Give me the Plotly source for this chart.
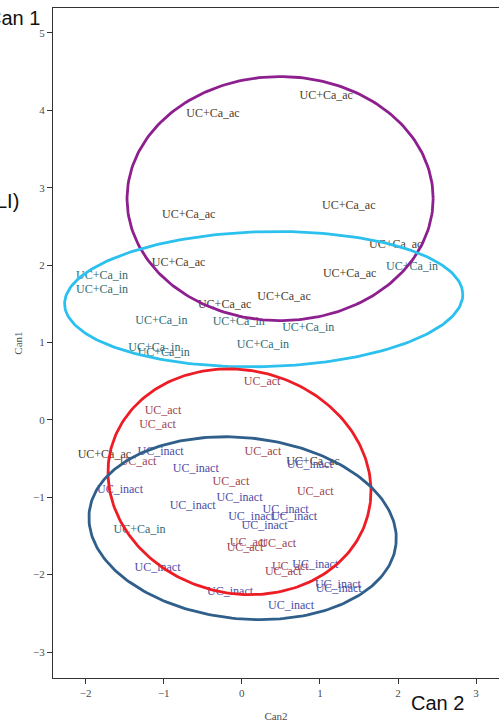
import numpy as np
import plotly.graph_objects as go

# ---- data ----
ac_x = [-0.37, 1.08, -0.68, 1.37, 1.97, -0.81, 1.38, 0.54, -0.22, -1.76, 0.91]
ac_y = [3.95, 4.18, 2.65, 2.76, 2.26, 2.03, 1.89, 1.59, 1.48, -0.45, -0.55]

in_x = [-1.79, -1.79, -1.03, -0.04, 2.18, 0.85, 0.27, -1.12, -1.00, -1.31]
in_y = [1.86, 1.68, 1.28, 1.27, 1.97, 1.19, 0.97, 0.93, 0.87, -1.42]

act_x = [0.26, -1.01, -1.08, -1.33, 0.27, -0.14, 0.94, 0.08, 0.46, 0.04, 0.62, 0.53]
act_y = [0.49, 0.12, -0.06, -0.55, -0.42, -0.80, -0.93, -1.59, -1.60, -1.66, -1.90, -1.97]

inact_x = [-1.04, -0.59, -1.56, -0.63, -0.03, 0.87, 0.56, 0.12, 0.67, 0.29,
           0.94, 1.23, 1.24, -0.15, 0.63, -1.08]
inact_y = [-0.42, -0.63, -0.90, -1.11, -1.01, -0.58, -1.16, -1.25, -1.26, -1.37,
           -1.88, -2.13, -2.19, -2.23, -2.41, -1.92]

groups = ["UC+Ca_ac", "UC+Ca_in", "UC_act", "UC_inact"]
text_colors = ["#4d3b27", "#2e6b73", "#a0424d", "#4b4ca5"]

# ellipse parameters: center x, center y, semi-axis a, semi-axis b, angle (deg)
ell_cx = [0.49, 0.28, -0.03, 0.01]
ell_cy = [2.86, 1.56, -0.80, -1.40]
ell_a = [1.96, 2.55, 1.70, 1.975]
ell_b = [1.577, 0.872, 1.44, 1.17]
ell_ang = [0.0, 1.5, -15.0, -6.0]
ell_colors = ["#8e1f8e", "#2bc0ee", "#ee1c25", "#2f5f8a"]

xs = [ac_x, in_x, act_x, inact_x]
ys = [ac_y, in_y, act_y, inact_y]

fig = go.Figure()

for g, x, y, c in zip(groups, xs, ys, text_colors):
    fig.add_trace(go.Scatter(
        x=x, y=y, mode="text", text=[g] * len(x),
        textposition="middle center",
        textfont=dict(family="Liberation Serif", size=12, color=c),
        showlegend=False, hoverinfo="skip"))

t = np.linspace(0, 2 * np.pi, 240)
for cx, cy, a, b, ang, col in zip(ell_cx, ell_cy, ell_a, ell_b, ell_ang, ell_colors):
    th = np.deg2rad(ang)
    ex = cx + a * np.cos(t) * np.cos(th) - b * np.sin(t) * np.sin(th)
    ey = cy + a * np.cos(t) * np.sin(th) + b * np.sin(t) * np.cos(th)
    fig.add_trace(go.Scatter(x=ex, y=ey, mode="lines",
                             line=dict(color=col, width=2.8),
                             showlegend=False, hoverinfo="skip"))

axis_common = dict(
    showgrid=False, zeroline=False,
    showline=True, linecolor="#333333", linewidth=1.3,
    ticks="outside", ticklen=5, tickwidth=1, tickcolor="#333333",
    tickfont=dict(family="Liberation Serif", size=11, color="#4d4d4d"),
)

fig.update_layout(
    width=499, height=727,
    margin=dict(l=53, r=0, t=8, b=49),
    paper_bgcolor="white", plot_bgcolor="white",
    xaxis=dict(range=[-2.418, 3.293], tickvals=[-2, -1, 0, 1, 2, 3],
               mirror=True,
               title=dict(text="Can2", standoff=13,
                          font=dict(family="Liberation Serif", size=11, color="#4d4d4d")),
               **axis_common),
    yaxis=dict(range=[-3.336, 5.323], tickvals=[-3, -2, -1, 0, 1, 2, 3, 4, 5],
               title=dict(text="Can1", standoff=8,
                          font=dict(family="Liberation Serif", size=11, color="#4d4d4d")),
               **axis_common),
    annotations=[
        dict(text="Can 1", xref="paper", yref="paper",
             x=(42 - 53) / 446, y=(678 - 18) / 670, xanchor="right", yanchor="middle",
             showarrow=False, font=dict(family="Liberation Sans", size=20, color="#111111")),
        dict(text="LI)", xref="paper", yref="paper",
             x=(21 - 53) / 446, y=(678 - 201) / 670, xanchor="right", yanchor="middle",
             showarrow=False, font=dict(family="Liberation Sans", size=20, color="#111111")),
        dict(text="Can 2", xref="paper", yref="paper",
             x=(437 - 53) / 446, y=(678 - 703) / 670, xanchor="center", yanchor="middle",
             showarrow=False, font=dict(family="Liberation Sans", size=20, color="#111111")),
    ],
)

fig.write_html("out.html")
